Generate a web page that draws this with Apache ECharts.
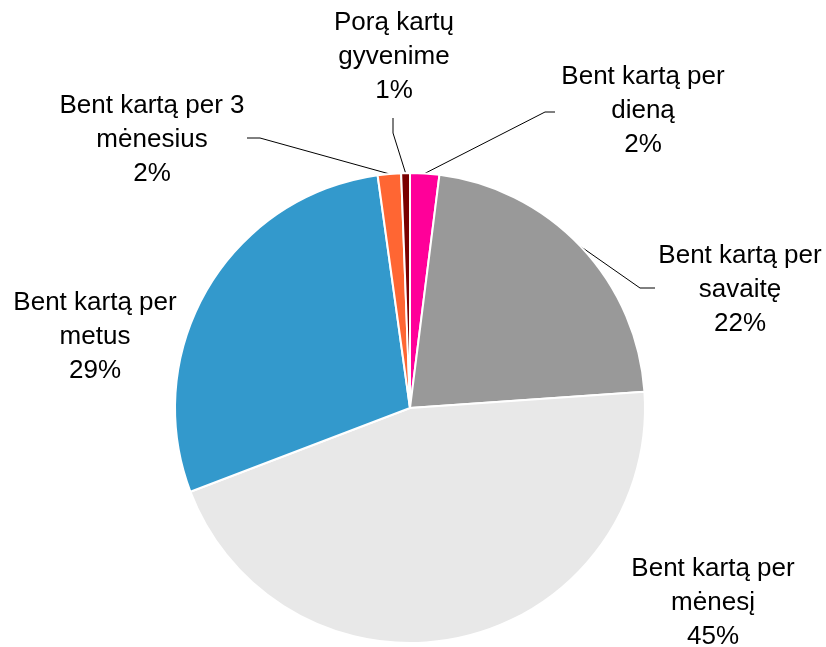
<!DOCTYPE html>
<html lang="lt">
<head>
<meta charset="UTF-8">
<title>Pie</title>
<script src="https://cdn.jsdelivr.net/npm/echarts@6/dist/echarts.min.js"></script>
<style>html,body{margin:0;padding:0;background:#fff}</style>
</head>
<body>
<div id="chart" style="width:826px;height:647px"></div>
<script>
var names = ['Bent kartą per\ndieną', 'Bent kartą per\nsavaitę', 'Bent kartą per\nmėnesį', 'Bent kartą per\nmetus', 'Bent kartą per 3\nmėnesius', 'Porą kartų\ngyvenime'];
var values = [2.0, 21.9, 45.3, 28.6, 1.6, 0.6];
var shown = [2, 22, 45, 29, 2, 1];
var colors = ['#ff0099', '#999999', '#e8e8e8', '#3399cc', '#ff6633', '#7a0000'];

// label centres and leader line bends (null = no leader line)
var labelPos = [[643, 111], [740, 290], [713, 603], [95, 337], [152, 140], [394, 57]];
var bends = [
    [[545, 112], [555, 112]],
    [[640, 288], [655, 288]],
    null,
    null,
    [[260, 138], [247, 138]],
    [[393, 133], [393, 118]]
];

var myChart = echarts.init(document.getElementById('chart'));

var data = names.map(function (n, i) {
    return {
        name: n,
        value: values[i],
        itemStyle: { color: colors[i] },
        labelLine: { show: bends[i] != null }
    };
});

var option = {
    animation: false,
    series: [{
        type: 'pie',
        center: [410, 408],
        radius: 235,
        startAngle: 90,
        clockwise: true,
        avoidLabelOverlap: false,
        itemStyle: { borderColor: '#fff', borderWidth: 2 },
        label: {
            show: true,
            position: 'outside',
            color: '#000',
            fontFamily: 'Liberation Sans, Arial, sans-serif',
            fontSize: 26,
            lineHeight: 34,
            align: 'center',
            formatter: function (p) {
                return p.name + '\n' + shown[p.dataIndex] + '%';
            }
        },
        labelLine: {
            show: true,
            length: 20,
            length2: 10,
            lineStyle: { color: '#000', width: 1 }
        },
        labelLayout: function (p) {
            var i = p.dataIndex;
            var res = {
                x: labelPos[i][0],
                y: labelPos[i][1],
                align: 'center',
                verticalAlign: 'middle'
            };
            if (bends[i] && p.labelLinePoints) {
                res.labelLinePoints = [p.labelLinePoints[0], bends[i][0], bends[i][1]];
            }
            return res;
        },
        data: data
    }]
};

myChart.setOption(option);
</script>
</body>
</html>
